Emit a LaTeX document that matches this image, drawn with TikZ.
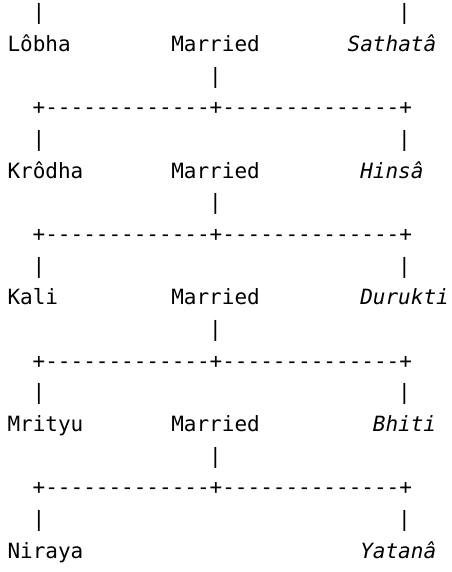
\documentclass[tikz,border=0pt]{standalone}
\usepackage{fontspec}
\setmonofont{DejaVu Sans Mono}
\usepackage{tikz}

\tikzset{
  ascii/.style={font=\ttfamily\fontsize{21}{31}\selectfont, anchor=base west, inner sep=0pt, outer sep=0pt},
  wife/.style={ascii, font=\ttfamily\itshape\fontsize{21}{31}\selectfont}
}

\begin{document}
\begin{tikzpicture}[x=12.6pt, y=-31.65pt]

\useasboundingbox (0pt,0pt) rectangle (451pt,-572pt);

\begin{scope}[shift={(7.5pt,-20pt)}]

% Top stems
\node[ascii] (topl) at (2,0) {|};
\node[ascii] (topr) at (31,0) {|};

% Husbands
\node[ascii] (lobha)  at (0,1)  {Lôbha};
\node[ascii] (krodha) at (0,5)  {Krôdha};
\node[ascii] (kali)   at (0,9)  {Kali};
\node[ascii] (mrityu) at (0,13) {Mrityu};
\node[ascii] (niraya) at (0,17) {Niraya};

% Wives
\node[wife] (sathata) at (27,1)  {Sathatâ};
\node[wife] (hinsa)   at (28,5)  {Hinsâ};
\node[wife] (durukti) at (28,9)  {Durukti};
\node[wife] (bhiti)   at (29,13) {Bhiti};
\node[wife] (yatana)  at (28,17) {Yatanâ};

% Married, stem, join and the two stems below
\foreach \n/\r in {1/1,2/5,3/9,4/13} {
  \node[ascii] (married\n) at (13,\r) {Married};
  \node[ascii] (stem\n)  at (16,{\r+1}) {|};
  \node[ascii] (join\n)  at (2,{\r+2})  {+-------------+--------------+};
  \node[ascii] (left\n)  at (2,{\r+3})  {|};
  \node[ascii] (right\n) at (31,{\r+3}) {|};
}

\end{scope}

\end{tikzpicture}
\end{document}
